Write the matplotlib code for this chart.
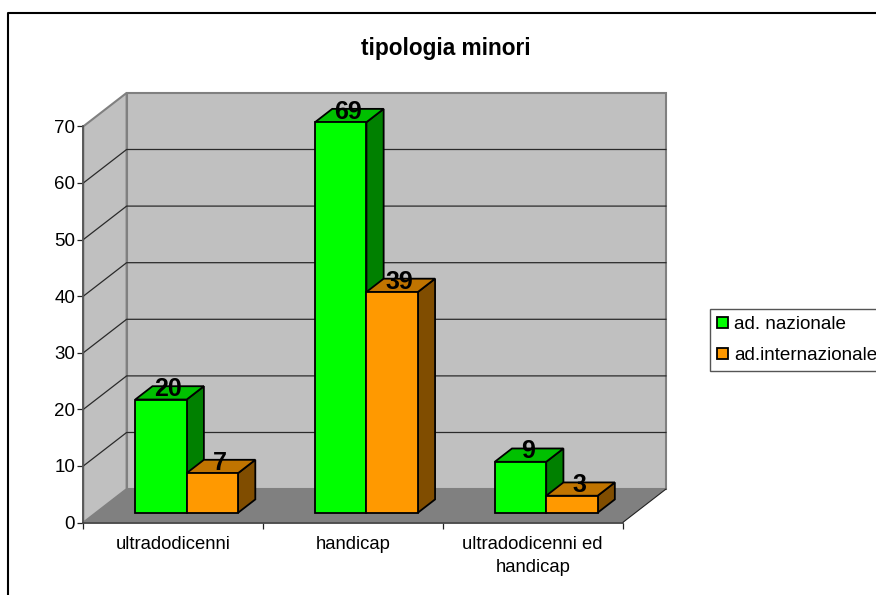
import matplotlib
matplotlib.use("Agg")
import matplotlib.pyplot as plt
from matplotlib.lines import Line2D

plt.rcParams['font.family'] = ['Liberation Sans', 'DejaVu Sans']

# Data
categorie = ['ultradodicenni', 'handicap', 'ultradodicenni ed\nhandicap']
nazionale = [20, 69, 9]
internazionale = [7, 39, 3]
yticks = [0, 10, 20, 30, 40, 50, 60, 70]

# Fake 3D depth, in data units
DX = 0.241
DY = 5.92
FRONT = 0.295     # where the bars start inside the depth
BAR_DEPTH = 0.397 # how much of the depth a bar takes
BAR_W = 0.286
GROUP_START = 0.218
W, H = 876, 595

fig = plt.figure(figsize=(8.76, 5.95), dpi=100)
ax = fig.add_axes([83.3/W, 1 - 522.6/H, (622.6 - 83.3)/W, (522.6 - 126.4)/H])
ax.set_xlim(0, 3)
ax.set_ylim(0, 70)
ax.patch.set_visible(False)

# Walls and floor
ax.fill([DX, 3 + DX, 3 + DX, DX], [DY, DY, 70 + DY, 70 + DY],
        facecolor='#c0c0c0', edgecolor='#808080', lw=1.5, clip_on=False, zorder=1)
ax.fill([0, DX, DX, 0], [0, DY, 70 + DY, 70],
        facecolor='#c0c0c0', edgecolor='#808080', lw=1.5, clip_on=False, zorder=1)
ax.fill([0, 3, 3 + DX, DX], [0, 0, DY, DY],
        facecolor='#808080', edgecolor='none', clip_on=False, zorder=2)
ax.plot([3, 3 + DX], [0, DY], color='#222222', lw=0.8, clip_on=False, zorder=2)

# Grid lines on both walls
for t in yticks[1:-1]:
    ax.plot([0, DX, 3 + DX], [t, t + DY, t + DY], color='#2a2a2a', lw=0.9,
            clip_on=False, zorder=2)

# Bars
fx = DX * FRONT
fy = DY * FRONT
bx = DX * BAR_DEPTH
by = DY * BAR_DEPTH
series = [
    (nazionale, 'ad. nazionale', '#00ff00', '#00c000', '#008000', 0),
    (internazionale, 'ad.internazionale', '#ff9900', '#c07400', '#804d00', 1),
]
handles = []
z = 3
for i in range(len(categorie)):
    for vals, name, front, top, side, k in series:
        v = vals[i]
        x0 = i + GROUP_START + k * BAR_W + fx
        x1 = x0 + BAR_W
        y0 = fy
        y1 = fy + v
        ax.fill([x1, x1 + bx, x1 + bx, x1], [y0, y0 + by, y1 + by, y1],
                facecolor=side, edgecolor='black', lw=1.3, clip_on=False, zorder=z)
        ax.fill([x0, x1, x1 + bx, x0 + bx], [y1, y1, y1 + by, y1 + by],
                facecolor=top, edgecolor='black', lw=1.3, clip_on=False, zorder=z)
        b = ax.bar(x0, v, BAR_W, bottom=y0, align='edge', color=front,
                   edgecolor='black', lw=1.3, clip_on=False, zorder=z + 0.5)
        if i == 0:
            handles.append((b[0], name))
        z += 1

# Value labels go on top of all the bars
for i in range(len(categorie)):
    for vals, name, front, top, side, k in series:
        v = vals[i]
        xc = i + GROUP_START + k * BAR_W + fx + BAR_W / 2 + bx / 2 - 0.008
        ax.text(xc, v + fy + 1.85, str(v), ha='center', va='center',
                fontsize=18, fontweight='bold', color='black', zorder=50)

# Axes
for s in ['top', 'right']:
    ax.spines[s].set_visible(False)
ax.spines['left'].set_color('#555555')
ax.spines['bottom'].set_color('#444444')
ax.spines['left'].set_linewidth(1.3)
ax.spines['bottom'].set_linewidth(1.3)
ax.set_yticks(yticks)
ax.tick_params(axis='y', length=4.3, width=0.9, color='#222222', labelsize=13.5, pad=1.5)
ax.set_xticks([0, 1, 2, 3])
ax.set_xticklabels([])
ax.tick_params(axis='x', which='major', length=4.3, width=0.9, color='#222222')
ax.set_xticks([0.5, 1.5, 2.5], minor=True)
ax.set_xticklabels(categorie, minor=True, fontsize=13.35, linespacing=1.43)
ax.tick_params(axis='x', which='minor', length=0, pad=10)

fig.text(446/W, 1 - 49/H, 'tipologia minori', ha='center', va='center',
         fontsize=16.3, fontweight='bold')

# Legend
leg = fig.legend([h[0] for h in handles], [h[1] for h in handles],
                 loc='upper left', bbox_to_anchor=(710.3/W, 1 - 309.3/H),
                 bbox_transform=fig.transFigure, borderaxespad=0, fontsize=13.6,
                 fancybox=False, edgecolor='#555555', framealpha=1,
                 handlelength=0.55, handleheight=0.55, handletextpad=0.35,
                 labelspacing=0.72, borderpad=0.38)
leg.get_frame().set_linewidth(1.0)

# Chart frame, only the left and top edges fall inside the picture
fig.add_artist(Line2D([8/W, 8/W, 1], [0, 1 - 13/H, 1 - 13/H], color='black', lw=1.5))

plt.savefig('out.png', dpi=100)
